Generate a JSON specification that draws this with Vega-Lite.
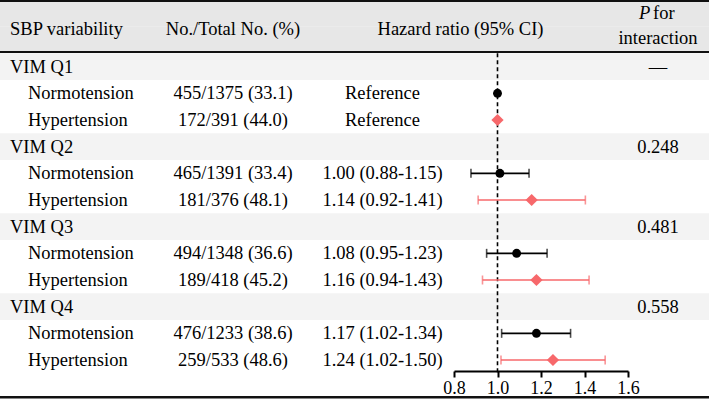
{
"$schema":"https://vega.github.io/schema/vega-lite/v6.json",
"width":709,"height":400,"autosize":{"type":"none"},"padding":0,"background":"white",
"config":{"view":{"stroke":null},
 "text":{"font":"Liberation Serif","fontSize":18.5,"color":"#000000","baseline":"middle"},
 "axis":{"labelFont":"Liberation Serif","labelFontSize":18,"labelColor":"#000000","tickColor":"#000000","domainColor":"#000000","grid":false}},
"datasets":{
 "rows":[
  {"key":"Q1","label":"VIM Q1","type":"group","p":"—"},
  {"key":"Q1-N","label":"Normotension","type":"sub","group":"Normotension","n":"455/1375 (33.1)","hrText":"Reference","hr":1.0},
  {"key":"Q1-H","label":"Hypertension","type":"sub","group":"Hypertension","n":"172/391 (44.0)","hrText":"Reference","hr":1.0},
  {"key":"Q2","label":"VIM Q2","type":"group","p":"0.248"},
  {"key":"Q2-N","label":"Normotension","type":"sub","group":"Normotension","n":"465/1391 (33.4)","hrText":"1.00 (0.88-1.15)","hr":1.011,"lo":0.878,"hi":1.145},
  {"key":"Q2-H","label":"Hypertension","type":"sub","group":"Hypertension","n":"181/376 (48.1)","hrText":"1.14 (0.92-1.41)","hr":1.157,"lo":0.911,"hi":1.404},
  {"key":"Q3","label":"VIM Q3","type":"group","p":"0.481"},
  {"key":"Q3-N","label":"Normotension","type":"sub","group":"Normotension","n":"494/1348 (36.6)","hrText":"1.08 (0.95-1.23)","hr":1.088,"lo":0.95,"hi":1.228},
  {"key":"Q3-H","label":"Hypertension","type":"sub","group":"Hypertension","n":"189/418 (45.2)","hrText":"1.16 (0.94-1.43)","hr":1.179,"lo":0.931,"hi":1.421},
  {"key":"Q4","label":"VIM Q4","type":"group","p":"0.558"},
  {"key":"Q4-N","label":"Normotension","type":"sub","group":"Normotension","n":"476/1233 (38.6)","hrText":"1.17 (1.02-1.34)","hr":1.179,"lo":1.019,"hi":1.336},
  {"key":"Q4-H","label":"Hypertension","type":"sub","group":"Hypertension","n":"259/533 (48.6)","hrText":"1.24 (1.02-1.50)","hr":1.255,"lo":1.016,"hi":1.495}
 ],
 "header":[{"c1":"SBP variability","c2":"No./Total No. (%)","c3":"Hazard ratio (95% CI)","p1":"P","p2":"for","p3":"interaction"}]
},
"data":{"name":"rows"},
"layer":[
 {"data":{"name":"header"},"mark":{"type":"rect","fill":"#e7e7e7"},
  "encoding":{"y":{"datum":"hdrA","type":"ordinal","axis":null,"scale":{"type":"band","paddingInner":0,"paddingOuter":0,"domain":["hdrA","hdrB","Q1","Q1-N","Q1-H","Q2","Q2-N","Q2-H","Q3","Q3-N","Q3-H","Q4","Q4-N","Q4-H","axis"]}}}},
 {"data":{"name":"header"},"mark":{"type":"rect","fill":"#e7e7e7"},
  "encoding":{"y":{"datum":"hdrB","type":"ordinal","axis":null,"scale":{"type":"band","paddingInner":0,"paddingOuter":0,"domain":["hdrA","hdrB","Q1","Q1-N","Q1-H","Q2","Q2-N","Q2-H","Q3","Q3-N","Q3-H","Q4","Q4-N","Q4-H","axis"]}}}},
 {"transform":[{"filter":"datum.type==='group'"}],"mark":{"type":"rect","fill":"#f3f3f3"},
  "encoding":{"y":{"field":"key","type":"ordinal","axis":null,"scale":{"type":"band","paddingInner":0,"paddingOuter":0,"domain":["hdrA","hdrB","Q1","Q1-N","Q1-H","Q2","Q2-N","Q2-H","Q3","Q3-N","Q3-H","Q4","Q4-N","Q4-H","axis"]}}}},
 {"data":{"name":"header"},"mark":{"type":"rule","color":"#111111","strokeWidth":4},
  "encoding":{"y":{"datum":"hdrA","type":"ordinal","bandPosition":0,"axis":null}}},
 {"data":{"name":"header"},"mark":{"type":"rule","color":"#111111","strokeWidth":2},
  "encoding":{"y":{"datum":"hdrB","type":"ordinal","bandPosition":0.95,"axis":null}}},
 {"data":{"name":"header"},"mark":{"type":"rule","color":"#111111","strokeWidth":2.5},
  "encoding":{"y":{"datum":"axis","type":"ordinal","bandPosition":0.9,"axis":null}}},
 {"data":{"name":"header"},"mark":{"type":"rule","color":"#000000","strokeWidth":1.6,"strokeDash":[4,3]},
  "encoding":{"x":{"datum":1,"type":"quantitative","title":null,"scale":{"domain":[0.8,1.6],"range":[454,628],"nice":false,"zero":false},
     "axis":{"values":[0.8,1.0,1.2,1.4,1.6],"format":".1f","offset":-29,"tickSize":6,"tickWidth":2,"domainWidth":2,"labelPadding":2,"labelFontSize":18,"labelFont":"Liberation Serif","labelFlush":false,"labelOverlap":false,"title":null}},
   "y":{"datum":"Q1","type":"ordinal","bandPosition":0,"axis":null},
   "y2":{"datum":"axis","bandPosition":0}}},
 {"transform":[{"filter":"isValid(datum.lo)"}],"mark":{"type":"rule","strokeWidth":1.6},
  "encoding":{"x":{"field":"lo","type":"quantitative","title":null},"x2":{"field":"hi"},
   "y":{"field":"key","type":"ordinal","axis":null},
   "color":{"field":"group","type":"nominal","legend":null,"scale":{"domain":["Normotension","Hypertension"],"range":["#000000","#F7686B"]}}}},
 {"transform":[{"filter":"isValid(datum.lo)"}],"mark":{"type":"tick","thickness":1.6,"size":9},
  "encoding":{"x":{"field":"lo","type":"quantitative","title":null},
   "y":{"field":"key","type":"ordinal","axis":null},
   "color":{"field":"group","type":"nominal","legend":null}}},
 {"transform":[{"filter":"isValid(datum.hi)"}],"mark":{"type":"tick","thickness":1.6,"size":9},
  "encoding":{"x":{"field":"hi","type":"quantitative","title":null},
   "y":{"field":"key","type":"ordinal","axis":null},
   "color":{"field":"group","type":"nominal","legend":null}}},
 {"transform":[{"filter":"isValid(datum.hr)"}],"mark":{"type":"point","filled":true,"opacity":1},
  "encoding":{"x":{"field":"hr","type":"quantitative","title":null},
   "y":{"field":"key","type":"ordinal","axis":null},
   "color":{"field":"group","type":"nominal","legend":null},
   "shape":{"field":"group","type":"nominal","legend":null,"scale":{"domain":["Normotension","Hypertension"],"range":["circle","diamond"]}},
   "size":{"field":"group","type":"nominal","legend":null,"scale":{"domain":["Normotension","Hypertension"],"range":[80,150]}}}},
 {"transform":[{"filter":"datum.type==='group'"}],"mark":{"type":"text","align":"left"},
  "encoding":{"x":{"value":10},"y":{"field":"key","type":"ordinal","axis":null},"text":{"field":"label"}}},
 {"transform":[{"filter":"datum.type==='sub'"}],"mark":{"type":"text","align":"left"},
  "encoding":{"x":{"value":28},"y":{"field":"key","type":"ordinal","axis":null},"text":{"field":"label"}}},
 {"transform":[{"filter":"datum.type==='sub'"}],"mark":{"type":"text","align":"center"},
  "encoding":{"x":{"value":233},"y":{"field":"key","type":"ordinal","axis":null},"text":{"field":"n"}}},
 {"transform":[{"filter":"datum.type==='sub'"}],"mark":{"type":"text","align":"center"},
  "encoding":{"x":{"value":382.5},"y":{"field":"key","type":"ordinal","axis":null},"text":{"field":"hrText"}}},
 {"transform":[{"filter":"datum.type==='group'"}],"mark":{"type":"text","align":"center"},
  "encoding":{"x":{"value":658},"y":{"field":"key","type":"ordinal","axis":null},"text":{"field":"p"}}},
 {"data":{"name":"header"},"mark":{"type":"text","align":"left"},
  "encoding":{"x":{"value":10},"y":{"datum":"hdrB","type":"ordinal","bandPosition":0.07,"axis":null},"text":{"field":"c1"}}},
 {"data":{"name":"header"},"mark":{"type":"text","align":"center"},
  "encoding":{"x":{"value":233},"y":{"datum":"hdrB","type":"ordinal","bandPosition":0.07,"axis":null},"text":{"field":"c2"}}},
 {"data":{"name":"header"},"mark":{"type":"text","align":"center"},
  "encoding":{"x":{"value":460.5},"y":{"datum":"hdrB","type":"ordinal","bandPosition":0.07,"axis":null},"text":{"field":"c3"}}},
 {"data":{"name":"header"},"mark":{"type":"text","align":"left","fontStyle":"italic"},
  "encoding":{"x":{"value":639},"y":{"datum":"hdrA","type":"ordinal","bandPosition":0.5,"axis":null},"text":{"field":"p1"}}},
 {"data":{"name":"header"},"mark":{"type":"text","align":"left"},
  "encoding":{"x":{"value":653},"y":{"datum":"hdrA","type":"ordinal","bandPosition":0.5,"axis":null},"text":{"field":"p2"}}},
 {"data":{"name":"header"},"mark":{"type":"text","align":"center"},
  "encoding":{"x":{"value":658},"y":{"datum":"hdrB","type":"ordinal","bandPosition":0.44,"axis":null},"text":{"field":"p3"}}}
]
}
